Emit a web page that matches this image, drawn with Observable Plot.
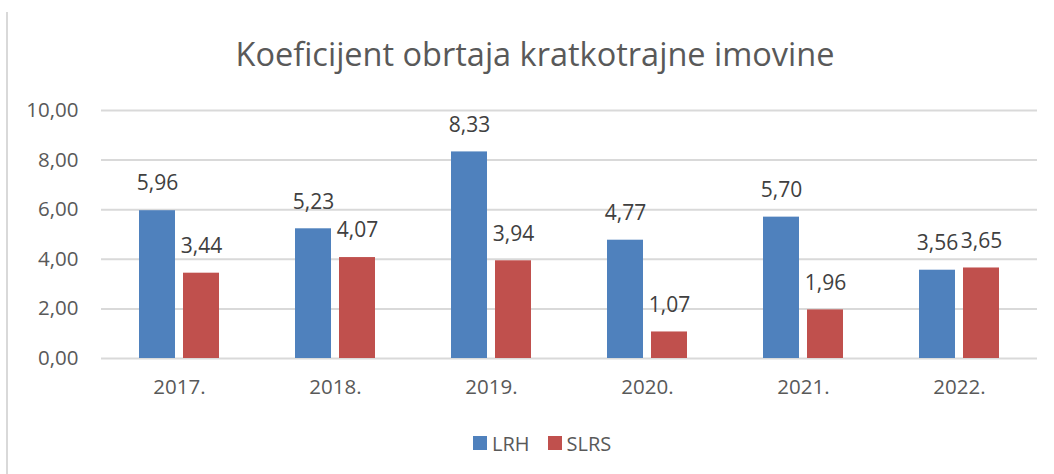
<!DOCTYPE html>
<html><head><meta charset="utf-8">
<script src="https://cdn.jsdelivr.net/npm/d3@7"></script>
<script src="https://cdn.jsdelivr.net/npm/@observablehq/plot@0.6"></script>
<style>
body{margin:0;background:#fff;}
#wrap{position:relative;width:1054px;height:474px;overflow:hidden;font-family:"Open Sans",sans-serif;background:#fff;}
#border{position:absolute;left:6px;top:12px;width:2px;height:470px;background:#d9d9d9;}
#title{position:absolute;left:0;width:1070px;top:38px;text-align:center;font-size:32.5px;line-height:32.5px;color:#595959;white-space:nowrap;}
#chart{position:absolute;left:0;top:95px;}
#legend{position:absolute;left:473px;top:431px;height:24px;display:flex;align-items:center;font-size:20px;color:#595959;}
#legend .sw{width:14px;height:14px;margin-right:5px;}
#legend .item{display:flex;align-items:center;margin-right:18px;}
</style>
</head><body>
<div id="wrap">
  <div id="border"></div>
  <div id="title">Koeficijent obrtaja kratkotrajne imovine</div>
  <div id="chart"></div>
  <div id="legend"></div>
</div>
<script>
const years = ["2017.","2018.","2019.","2020.","2021.","2022."];
const series = ["LRH","SLRS"];
const lrh = [5.96,5.23,8.33,4.77,5.70,3.56];
const slrs = [3.44,4.07,3.94,1.07,1.96,3.65];
const colors = ["#4F81BD","#C0504D"];
const yTicks = [0,2,4,6,8,10];

const data = years.flatMap((y,i)=>[
  {year:y, series:series[0], value:lrh[i]},
  {year:y, series:series[1], value:slrs[i]}
]);
const fmt = v => v.toFixed(2).replace(".", ",");

const chart = Plot.plot({
  width:1054, height:320, marginTop:15, marginBottom:57, marginLeft:101, marginRight:17,
  style:{fontFamily:"'Open Sans', sans-serif", fontSize:"20.5px", color:"#595959", background:"transparent"},
  fx:{domain:years, padding:0, label:null, axis:"bottom", tickSize:0, tickPadding:21},
  x:{domain:series, paddingInner:0.1818, paddingOuter:0.8636, axis:null},
  y:{domain:[0,10], ticks:yTicks, tickFormat:fmt, label:null, tickSize:0, tickPadding:23},
  color:{domain:series, range:colors},
  marks:[
    Plot.gridY(yTicks, {stroke:"#d9d9d9", strokeOpacity:1, strokeWidth:2}),
    Plot.barY(data, {fx:"year", x:"series", y:"value", fill:"series"}),
    Plot.text(data, {fx:"year", x:"series", y:"value", text:d=>fmt(d.value), dy:-27, fill:"#404040", fontSize:21})
  ]
});
document.getElementById("chart").appendChild(chart);

const legend = document.getElementById("legend");
series.forEach((s,i)=>{
  const item = document.createElement("div");
  item.className = "item";
  const sw = document.createElement("div");
  sw.className = "sw";
  sw.style.background = colors[i];
  const t = document.createElement("span");
  t.textContent = s;
  item.appendChild(sw); item.appendChild(t);
  legend.appendChild(item);
});
</script>
</body></html>
